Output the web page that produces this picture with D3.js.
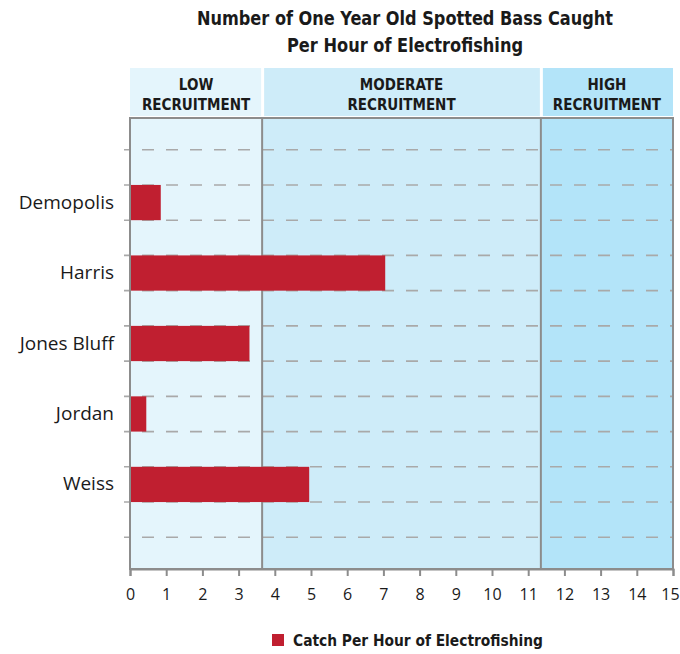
<!DOCTYPE html>
<html>
<head>
<meta charset="utf-8">
<script src="https://cdn.jsdelivr.net/npm/d3@7"></script>
<style>
  body { margin: 0; background: #fff; }
  svg { display: block; }
  .cond { font-family: "Liberation Sans Narrow", "DejaVu Sans Condensed", "Open Sans", sans-serif; }
</style>
</head>
<body>
<svg id="chart" width="680" height="654"></svg>
<script>
// chart data
var lakes = ['Demopolis', 'Harris', 'Jones Bluff', 'Jordan', 'Weiss']
var catchRates = [0.85, 7.05, 3.3, 0.45, 4.95]
var zoneLabels = [['LOW', 'RECRUITMENT'], ['MODERATE', 'RECRUITMENT'], ['HIGH', 'RECRUITMENT']]
var zoneBreaks = [0, 3.65, 11.35, 15]
var xTicks = d3.range(0, 16)
var gridRows = d3.range(0, 12)
var titleLines = ['Number of One Year Old Spotted Bass Caught', 'Per Hour of Electrofishing']
var legendLabel = 'Catch Per Hour of Electrofishing'

var zoneFill = ['#e4f5fc', '#ceecf9', '#b3e4f9']
var barColor = '#c01f30'
var borderColor = '#8c8c8c'

var svg = d3.select('#chart')

var x = d3.scaleLinear().domain([0, 15]).range([130, 673])
// rows: gridlines sit on whole numbers, bars fill row 2i+1 .. 2i+2
var y = d3.scaleLinear().domain([-0.9, 11.9]).range([118, 569])

// title
svg.selectAll('.title')
  .data(titleLines)
  .enter().append('text')
  .attr('class', 'title cond')
  .attr('x', 405)
  .attr('y', function(d, i){ return 25 + i * 27 })
  .attr('text-anchor', 'middle')
  .attr('font-size', '19px')
  .attr('font-weight', 'bold')
  .attr('fill', '#1a1a1a')
  .attr('textLength', function(d, i){ return i == 0 ? 416 : 236 })
  .attr('lengthAdjust', 'spacingAndGlyphs')
  .text(function(d){ return d })

// zone backgrounds
var zones = zoneLabels.map(function(l, i){
  return {label: l, x0: zoneBreaks[i], x1: zoneBreaks[i + 1], fill: zoneFill[i]}
})

svg.selectAll('.zone')
  .data(zones)
  .enter().append('rect')
  .attr('class', 'zone')
  .attr('x', function(d){ return x(d.x0) })
  .attr('width', function(d){ return x(d.x1) - x(d.x0) })
  .attr('y', y(-0.9))
  .attr('height', y(11.9) - y(-0.9))
  .attr('fill', function(d){ return d.fill })

// header bands
var header = svg.selectAll('.header')
  .data(zones)
  .enter().append('g').attr('class', 'header')
header.append('rect')
  .attr('x', function(d, i){ return x(d.x0) + (i > 0 ? 2 : 0) })
  .attr('width', function(d, i){ return x(d.x1) - x(d.x0) - (i > 0 ? 2 : 0) - (i < 2 ? 1 : 0) })
  .attr('y', 68)
  .attr('height', 48)
  .attr('fill', function(d){ return d.fill })
header.selectAll('text')
  .data(function(d){ return d.label.map(function(t){ return {t: t, cx: (x(d.x0) + x(d.x1)) / 2} }) })
  .enter().append('text')
  .attr('class', 'cond')
  .attr('x', function(d){ return d.cx })
  .attr('y', function(d, i){ return 90 + i * 20 })
  .attr('text-anchor', 'middle')
  .attr('font-size', '15px')
  .attr('font-weight', 'bold')
  .attr('fill', '#1a1a1a')
  .text(function(d){ return d.t })

// dashed gridlines
svg.selectAll('.grid')
  .data(gridRows)
  .enter().append('line')
  .attr('class', 'grid')
  .attr('x1', 124)
  .attr('x2', x(15))
  .attr('y1', function(d){ return y(d) })
  .attr('y2', function(d){ return y(d) })
  .attr('stroke', '#a9a9a9')
  .attr('stroke-width', 1.6)
  .attr('stroke-dasharray', '12,12')
  .attr('stroke-dashoffset', 6)

// zone dividers and frame
svg.selectAll('.divider')
  .data(zoneBreaks.slice(1, -1))
  .enter().append('line')
  .attr('class', 'divider')
  .attr('x1', function(d){ return x(d) })
  .attr('x2', function(d){ return x(d) })
  .attr('y1', y(-0.9))
  .attr('y2', y(11.9))
  .attr('stroke', borderColor)
  .attr('stroke-width', 2)

svg.append('rect')
  .attr('x', x(0))
  .attr('y', y(-0.9))
  .attr('width', x(15) - x(0))
  .attr('height', y(11.9) - y(-0.9))
  .attr('fill', 'none')
  .attr('stroke', borderColor)
  .attr('stroke-width', 2)

// bars (drawn over the dividers, as in the original)
svg.selectAll('.bar')
  .data(catchRates)
  .enter().append('rect')
  .attr('class', 'bar')
  .attr('x', x(0) + 1)
  .attr('width', function(d){ return x(d) - x(0) - 1 })
  .attr('y', function(d, i){ return y(2 * i + 1) })
  .attr('height', function(d, i){ return y(2 * i + 2) - y(2 * i + 1) })
  .attr('fill', barColor)

// category labels
svg.selectAll('.lake')
  .data(lakes)
  .enter().append('text')
  .attr('class', 'lake')
  .attr('x', 114)
  .attr('y', function(d, i){ return y(2 * i + 1.5) + 6 })
  .attr('text-anchor', 'end')
  .attr('font-family', '"Open Sans", sans-serif')
  .attr('font-size', '19px')
  .attr('fill', '#1a1a1a')
  .text(function(d){ return d })

// x axis
var xAxis = d3.axisBottom(x)
  .tickValues(xTicks)
  .tickSize(7)
  .tickPadding(13)
  .tickFormat(d3.format('d'))
var axisG = svg.append('g')
  .attr('transform', 'translate(0,' + y(11.9) + ')')
  .call(xAxis)
axisG.select('.domain').attr('stroke', borderColor).attr('stroke-width', 2)
axisG.selectAll('.tick line').attr('stroke', borderColor).attr('stroke-width', 2)
axisG.selectAll('.tick text')
  .attr('font-family', '"Open Sans", sans-serif')
  .attr('font-size', '16px')
  .attr('fill', '#1a1a1a')
  .attr('dx', function(d){ return d == 15 ? -3 : 0 })

// legend
var legend = svg.append('g').attr('transform', 'translate(272,634)')
legend.append('rect')
  .attr('width', 12).attr('height', 12)
  .attr('fill', barColor)
legend.append('text')
  .attr('class', 'cond')
  .attr('x', 21)
  .attr('y', 12)
  .attr('font-size', '16px')
  .attr('font-weight', 'bold')
  .attr('fill', '#1a1a1a')
  .attr('textLength', 250)
  .attr('lengthAdjust', 'spacingAndGlyphs')
  .text(legendLabel)
</script>
</body>
</html>
